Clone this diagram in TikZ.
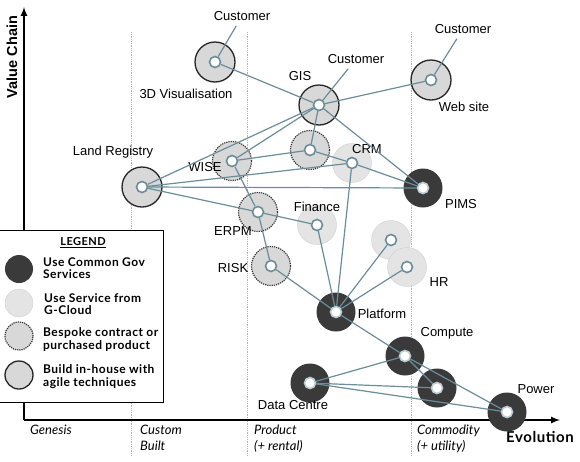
\documentclass[tikz,border=0pt]{standalone}
\usepackage{fontspec}
\setmainfont{Liberation Sans}
\newfontfamily\gill{Lato}
\newfontfamily\gillwide[LetterSpace=4]{Lato}
\usetikzlibrary{arrows}

\definecolor{linkcol}{HTML}{6A8D99}
\definecolor{darkfill}{HTML}{3A3A3A}
\definecolor{midfill}{HTML}{D8D8D8}
\definecolor{lightfill}{HTML}{E4E4E4}
\definecolor{lightrim}{HTML}{D0D0D0}

\begin{document}
\begin{tikzpicture}[x=1pt,y=-1pt,font=\fontsize{13}{15}\selectfont]
        \tikzstyle{common}=[circle,fill=darkfill,minimum size=39pt,inner sep=0pt]
        \tikzstyle{gcloud}=[circle,fill=lightfill,draw=lightrim,minimum size=39pt,inner sep=0pt]
        \tikzstyle{bespoke}=[circle,fill=midfill,draw=black!80,densely dotted,line width=1.2pt,minimum size=39pt,inner sep=0pt]
        \tikzstyle{inhouse}=[circle,fill=midfill,draw=black!85,line width=1.3pt,minimum size=40pt,inner sep=0pt]
        \tikzstyle{hub}=[circle,fill=white,draw=linkcol,line width=1.6pt,minimum size=11pt,inner sep=0pt]
        \tikzstyle{darkhub}=[hub,draw=linkcol!45]
        \tikzstyle{link}=[draw=linkcol,line width=1.2pt]
        \tikzstyle{lbl}=[inner sep=1pt]
        \tikzstyle{stage}=[font=\gill\itshape\fontsize{13}{16}\selectfont,align=left,anchor=north west,inner sep=0pt]
        \tikzstyle{keytext}=[font=\gillwide\bfseries\fontsize{12}{12.5}\selectfont,align=left,anchor=west,inner sep=0pt]

        \useasboundingbox (0,0) rectangle (580,461);

        % stages
        \foreach \x in {131,247,411}
                \draw[gray!60,densely dotted,line width=0.8pt] (\x,32) -- (\x,456);

        % axes
        \coordinate (O)    at (24,420);
        \coordinate (Ytop) at (24,7);
        \coordinate (Xend) at (560,420);
        \draw[line width=2pt,-latex] (O) -- (Ytop);
        \draw[line width=2pt,-latex] (O) -- (Xend);
        \node[font=\bfseries\fontsize{14.5}{16}\selectfont,inner sep=0pt,rotate=90] (vchain) at (12,57) {Value Chain};
        \node[font=\gillwide\bfseries\fontsize{15}{17}\selectfont,inner sep=0pt] (evol) at (540,437) {Evolution};

        \node[stage] (s1) at (30,425)  {Genesis};
        \node[stage] (s2) at (140,425) {Custom\\Built};
        \node[stage] (s3) at (254,425) {Product\\(+ rental)};
        \node[stage] (s4) at (417,425) {Commodity\\(+ utility)};

        % components
        \node[inhouse] (TDVbg)  at (215,62)  { };
        \node[inhouse] (GISbg)  at (319,105) { };
        \node[inhouse] (WEBbg)  at (431,80)  { };
        \node[inhouse] (LRbg)   at (142,187) { };
        \node[bespoke] (WISEbg) at (232,161) { };
        \node[bespoke] (BSPbg)  at (310,150) { };
        \node[gcloud]  (CRMbg)  at (352,163) { };
        \node[common]  (PIMSbg) at (423,188) { };
        \node[bespoke] (ERPMbg) at (258,212) { };
        \node[gcloud]  (FINbg)  at (317,225) { };
        \node[bespoke] (RISKbg) at (271,266) { };
        \node[gcloud]  (GCbg)   at (391,240) { };
        \node[gcloud]  (HRbg)   at (407,267) { };
        \node[common]  (PLATbg) at (336,312) { };
        \node[common]  (COMPbg) at (405,356) { };
        \node[common]  (DCbg)   at (310,383) { };
        \node[common]  (SRVbg)  at (437,388) { };
        \node[common]  (PWRbg)  at (507,412) { };

        \node[hub]     (TDV)  at (TDVbg)  { };
        \node[hub]     (GIS)  at (GISbg)  { };
        \node[hub]     (WEB)  at (WEBbg)  { };
        \node[hub]     (LR)   at (LRbg)   { };
        \node[hub]     (WISE) at (WISEbg) { };
        \node[hub]     (BSP)  at (BSPbg)  { };
        \node[hub]     (CRM)  at (CRMbg)  { };
        \node[darkhub] (PIMS) at (PIMSbg) { };
        \node[hub]     (ERPM) at (ERPMbg) { };
        \node[hub]     (FIN)  at (FINbg)  { };
        \node[hub]     (RISK) at (RISKbg) { };
        \node[hub]     (GC)   at (GCbg)   { };
        \node[hub]     (HR)   at (HRbg)   { };
        \node[darkhub] (PLAT) at (PLATbg) { };
        \node[darkhub] (COMP) at (COMPbg) { };
        \node[darkhub] (DC)   at (DCbg)   { };
        \node[darkhub] (SRV)  at (SRVbg)  { };
        \node[darkhub] (PWR)  at (PWRbg)  { };

        % labels
        \node[lbl,inner sep=5pt] (cTDV) at (242,16)  {Customer};
        \node[lbl,inner sep=5pt] (cGIS) at (356,59)  {Customer};
        \node[lbl,inner sep=5pt] (cWEB) at (463,29)  {Customer};
        \node[lbl] (tTDV)  at (186,94)  {3D Visualisation};
        \node[lbl] (tGIS)  at (300,76)  {GIS};
        \node[lbl] (tWEB)  at (464,107) {Web site};
        \node[lbl] (tLR)   at (113,152) {Land Registry};
        \node[lbl] (tWISE) at (205,167) {WISE};
        \node[lbl] (tCRM)  at (367,149) {CRM};
        \node[lbl] (tPIMS) at (461,204) {PIMS};
        \node[lbl] (tFIN)  at (317,207) {Finance};
        \node[lbl] (tERPM) at (233,231) {ERPM};
        \node[lbl] (tRISK) at (233,268) {RISK};
        \node[lbl] (tHR)   at (439,282) {HR};
        \node[lbl] (tPLAT) at (382,314) {Platform};
        \node[lbl] (tCOMP) at (447,333) {Compute};
        \node[lbl] (tDC)   at (293,405) {Data Centre};
        \node[lbl] (tPWR)  at (536,389) {Power};

        \path[link]
                  (TDV)  edge (cTDV)
                         edge (GIS)
                  (GIS)  edge (cGIS)
                         edge (WEB)
                         edge (LR)
                         edge (WISE)
                         edge (BSP)
                         edge (PIMS)
                  (WEB)  edge (cWEB)
                  (LR)   edge (CRM)
                         edge (PIMS)
                         edge (ERPM)
                  (WISE) edge (BSP)
                         edge (ERPM)
                  (BSP)  edge (CRM)
                  (CRM)  edge (PIMS)
                         edge (PLAT)
                  (ERPM) edge (FIN)
                         edge (RISK)
                  (FIN)  edge (PLAT)
                  (GC)   edge (PLAT)
                  (HR)   edge (PLAT)
                  (RISK) edge (PLAT)
                  (PLAT) edge (COMP)
                  (COMP) edge (PWR)
                         edge (SRV)
                  (DC)   edge (COMP)
                         edge (SRV)
                         edge (PWR);

        % legend
        \node[draw=black,fill=white,line width=0.9pt,anchor=north west,
              minimum width=164pt,minimum height=172pt,inner sep=0pt] (legend) at (-1,230) { };
        \node[font=\gillwide\bfseries\fontsize{11}{12}\selectfont,inner sep=0pt] (ltitle) at (83,243) {\underline{LEGEND}};
        \node[common,minimum size=28pt]  (k1) at (19,269) { };
        \node[gcloud,minimum size=28pt]  (k2) at (19,303) { };
        \node[bespoke,minimum size=28pt] (k3) at (19,336) { };
        \node[inhouse,minimum size=28pt] (k4) at (19,375) { };
        \node[keytext] (k1t) at (43,268)   {Use Common Gov\\Services};
        \node[keytext] (k2t) at (44,304)   {Use Service from\\G-Cloud};
        \node[keytext] (k3t) at (43,339.5) {Bespoke contract or\\purchased product};
        \node[keytext] (k4t) at (43,376.5) {Build in-house with\\agile techniques};
\end{tikzpicture}
\end{document}
